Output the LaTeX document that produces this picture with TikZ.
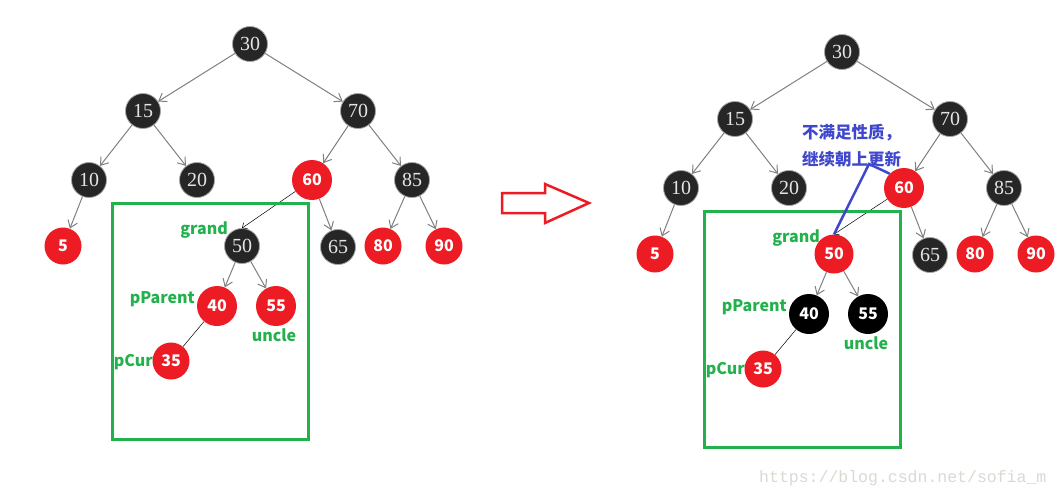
\documentclass[tikz,border=0pt]{standalone}
\usepackage{fontspec}
\setmainfont{Liberation Serif}
\newfontfamily\cjk{Noto Sans CJK SC}
\newfontfamily\urlfont{Liberation Mono}
\usetikzlibrary{arrows.meta}

\definecolor{nodered}{HTML}{ED1C24}
\definecolor{nodeblack}{HTML}{262626}
\definecolor{markgreen}{HTML}{22B14C}
\definecolor{noteblue}{HTML}{3F48CC}
\definecolor{edgegray}{HTML}{808080}
\definecolor{waterlight}{HTML}{DAD9D2}

\tikzset{
  blk/.style={circle, fill=nodeblack, draw=gray!70, line width=0.8pt, minimum size=35pt,
    inner sep=0pt, text=white!90!black, font=\fontsize{20}{20}\selectfont},
  rd/.style={circle, fill=nodered, minimum size=37pt, inner sep=0pt, text=white,
    font=\cjk\bfseries\fontsize{16}{16}\selectfont},
  bk/.style={rd, fill=black, minimum size=40pt},
  tag/.style={text=markgreen, inner sep=0pt, font=\cjk\bfseries\fontsize{16}{16}\selectfont},
  edge/.style={draw=edgegray, line width=1pt, -{Straight Barb[length=7pt,width=10pt]}},
  link/.style={draw=black, line width=0.5pt},
  zone/.style={draw=markgreen, line width=3pt},
}

\begin{document}
\begin{tikzpicture}[x=1pt,y=-1pt]
\useasboundingbox (0,0) rectangle (1061,498);
\fill[white] (0,0) rectangle (1061,498);

% before the recolouring
\node[blk] (a30) at (250,44) {30};
\node[blk] (a15) at (143,111) {15};
\node[blk] (a70) at (358,111) {70};
\node[blk] (a10) at (89,180) {10};
\node[blk] (a20) at (197,180) {20};
\node[rd,minimum size=40pt] (a60) at (312,180) {60};
\node[blk] (a85) at (412,180) {85};
\node[rd] (a5) at (63,246) {5};
\node[blk] (a50) at (242,246) {50};
\node[blk] (a65) at (338,247) {65};
\node[rd] (a80) at (383,246) {80};
\node[rd] (a90) at (444,246) {90};
\node[rd,minimum size=40pt] (a40) at (217,306) {40};
\node[rd,minimum size=40pt] (a55) at (276,306) {55};
\node[rd] (a35) at (171,361) {35};
\foreach \p/\c in {30/15,30/70,15/10,15/20,70/60,70/85,10/5,60/65,85/80,85/90,50/40,50/55}
  \draw[edge] (a\p) -- (a\c);
\draw[link,-{Straight Barb[length=4pt,width=7pt]}] (a60) -- (a50.north);
\draw[link] (a40) -- (a35);
\node[tag,anchor=east] (agrand) at (228,230) {grand};
\node[tag,anchor=east] (aparent) at (195,299) {pParent};
\node[tag] (auncle) at (274,335) {uncle};
\node[tag,anchor=east] (acur) at (153,362) {pCur};
\draw[zone] (112,203) rectangle (308,439);

% the arrow in between
\draw[nodered, line width=2.5pt, line join=miter]
  (502,193) -- (545,193) -- (545,184) -- (589,203) -- (545,223) -- (545,213) -- (502,213) -- cycle;

% after the recolouring
\begin{scope}[shift={(592,8)}]
\node[blk] (b30) at (250,44) {30};
\node[blk] (b15) at (143,111) {15};
\node[blk] (b70) at (358,111) {70};
\node[blk] (b10) at (89,180) {10};
\node[blk] (b20) at (197,180) {20};
\node[rd,minimum size=40pt] (b60) at (312,180) {60};
\node[blk] (b85) at (412,180) {85};
\node[rd] (b5) at (63,246) {5};
\node[rd,minimum size=39pt] (b50) at (242,246) {50};
\node[blk] (b65) at (338,247) {65};
\node[rd] (b80) at (383,246) {80};
\node[rd] (b90) at (444,246) {90};
\node[bk] (b40) at (217,306) {40};
\node[bk] (b55) at (276,306) {55};
\node[rd] (b35) at (171,361) {35};
\foreach \p/\c in {30/15,30/70,15/10,15/20,70/60,70/85,10/5,60/65,85/80,85/90,50/40,50/55}
  \draw[edge] (b\p) -- (b\c);
\draw[link,-{Straight Barb[length=4pt,width=7pt]}] (b60) -- (b50.north);
\draw[link] (b40) -- (b35);
\node[tag,anchor=east] (bgrand) at (228,230) {grand};
\node[tag,anchor=east] (bparent) at (195,299) {pParent};
\node[tag] (buncle) at (274,335) {uncle};
\node[tag,anchor=east] (bcur) at (153,362) {pCur};
\draw[zone] (112,203) rectangle (308,439);
\end{scope}

% note on the new grand node
\node[text=noteblue, inner sep=0pt, anchor=west, align=left,
  font=\cjk\bfseries\fontsize{16.5}{27}\selectfont] (note) at (802,146) {不满足性质，\\继续朝上更新};
\coordinate (kink) at (869,164);
\draw[noteblue, line width=2.5pt] (b50.north) -- (kink) -- (b60.north west);

\node[text=waterlight, inner sep=0pt, anchor=west,
  font=\urlfont\fontsize{16.5}{16.5}\selectfont] (mark) at (759,478) {https://blog.csdn.net/sofia\_m};
\end{tikzpicture}
\end{document}
